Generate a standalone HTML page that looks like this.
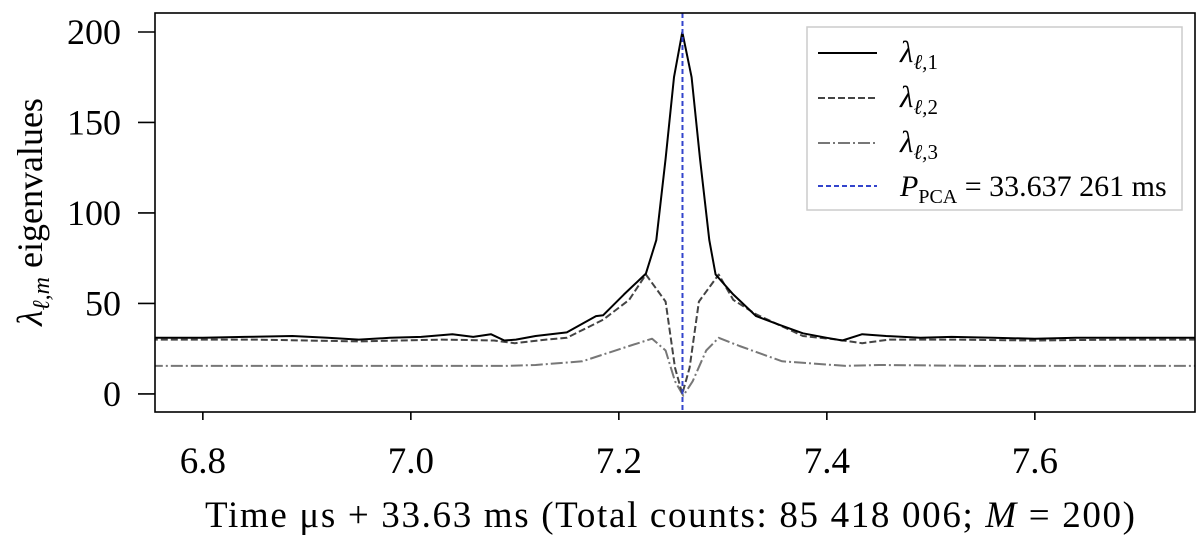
<!DOCTYPE html>
<html><head><meta charset="utf-8">
<style>
body{margin:0;background:#fff;}
svg{display:block;font-family:"Liberation Serif",serif;}
</style></head>
<body>
<svg id="chart" width="1200" height="540" viewBox="0 0 1200 540">
  <g id="marks"></g>
  <g id="axes"></g>
  <text x="205" y="527" font-size="37" textLength="930" lengthAdjust="spacing">Time μs + 33.63 ms (Total counts: 85 418 006; <tspan font-style="italic">M</tspan> = 200)</text>
  <text transform="translate(42,212) rotate(-90)" font-size="36" text-anchor="middle"><tspan font-style="italic">λ</tspan><tspan font-size="24" dy="7" font-style="italic">ℓ,m</tspan><tspan dy="-7"> eigenvalues</tspan></text>
  <g>
    <rect x="807" y="27" width="375" height="183" fill="#fff" fill-opacity="0.8" stroke="#ccc" stroke-width="1.5"/>
    <g>
      <line x1="818" y1="53" x2="877" y2="53" stroke="#000" stroke-width="2"/>
      <text x="900" y="62" font-size="31" font-style="italic">λ<tspan font-size="21" dy="7">ℓ,</tspan><tspan font-style="normal" font-size="21">1</tspan></text>
    </g>
    <g>
      <line x1="818" y1="98" x2="877" y2="98" stroke="#444" stroke-width="2" stroke-dasharray="7,3"/>
      <text x="900" y="107" font-size="31" font-style="italic">λ<tspan font-size="21" dy="7">ℓ,</tspan><tspan font-style="normal" font-size="21">2</tspan></text>
    </g>
    <g>
      <line x1="818" y1="143" x2="877" y2="143" stroke="#777" stroke-width="2" stroke-dasharray="12,3,2,3"/>
      <text x="900" y="152" font-size="31" font-style="italic">λ<tspan font-size="21" dy="7">ℓ,</tspan><tspan font-style="normal" font-size="21">3</tspan></text>
    </g>
    <g>
      <line x1="818" y1="186" x2="877" y2="186" stroke="#3344cc" stroke-width="2" stroke-dasharray="5,3"/>
      <text x="900" y="196" font-size="30"><tspan font-style="italic">P</tspan><tspan font-size="20" dy="7">PCA</tspan><tspan dy="-7"> = 33.637 261 ms</tspan></text>
    </g>
  </g>
</svg>
<script>
const xTicks = [6.8, 7.0, 7.2, 7.4, 7.6];
const xTickLabels = ["6.8", "7.0", "7.2", "7.4", "7.6"];
const yTicks = [0, 50, 100, 150, 200];
const yTickLabels = ["0", "50", "100", "150", "200"];
const periodX = 7.2612;
const s1x = [6.75,6.80,6.84,6.886,6.92,6.95,6.98,7.01,7.04,7.06,7.077,7.09,7.101,7.12,7.15,7.178,7.185,7.205,7.226,7.236,7.245,7.253,7.261,7.27,7.278,7.287,7.293,7.31,7.332,7.355,7.377,7.40,7.415,7.434,7.457,7.49,7.52,7.56,7.60,7.64,7.68,7.72,7.76];
const s1y = [31,31,31.5,32,31,30,31,31.5,33,31.5,33,29.5,30,32,34,43,43.5,55,66.5,85,130,175,200,175,130,85,66,55,43,38,33.5,31,29.5,33,32,31,31.5,31,30.5,31,31,31,31];
const s2x = [6.75,6.85,6.95,7.03,7.08,7.10,7.13,7.15,7.185,7.21,7.226,7.245,7.254,7.261,7.268,7.277,7.296,7.31,7.332,7.377,7.41,7.434,7.46,7.52,7.60,7.68,7.76];
const s2y = [30,30,29,30,29.5,28,30,31,41,52,66,51,14.5,0,14.5,51,66,52,44,32,30,28,30,30,29.5,30,30];
const s3x = [6.75,6.85,6.95,7.05,7.091,7.12,7.165,7.21,7.232,7.245,7.254,7.262,7.271,7.284,7.296,7.316,7.357,7.418,7.45,7.55,7.65,7.76];
const s3y = [15.5,15.5,15.5,15.5,15.5,16,18,26.5,30.5,24,7,-1,7,24,31,26.5,18,15.5,16,15.5,15.5,15.5];

const L=155,R=1195,T=13,B=412;
const xMin=6.754,xMax=7.754,yMin=-10,yMax=210.5;
const sx=v=>L+(v-xMin)/(xMax-xMin)*(R-L);
const sy=v=>B-(v-yMin)/(yMax-yMin)*(B-T);
const NS="http://www.w3.org/2000/svg";
const marks=document.getElementById('marks'), axes=document.getElementById('axes');
function mk(tag,attrs,parent){const e=document.createElementNS(NS,tag);for(const k in attrs)e.setAttribute(k,attrs[k]);parent.appendChild(e);return e;}
const clip=mk('clipPath',{id:'pc'},marks);
mk('rect',{x:L,y:T,width:R-L,height:B-T},clip);
function series(xs,ys,stroke,dash,name){
  const d=xs.map((x,i)=>(i?'L':'M')+sx(x).toFixed(1)+','+sy(ys[i]).toFixed(1)).join('');
  const p=mk('path',{d:d,fill:'none',stroke:stroke,'stroke-width':2,'stroke-dasharray':dash,'stroke-linejoin':'round','clip-path':'url(#pc)'},marks);
  
  
}
series(s3x,s3y,'#777','12,3,2,3','series-lambda3');
series(s2x,s2y,'#444','7,3','series-lambda2');
series(s1x,s1y,'#000','none','series-lambda1');
const vl=mk('line',{x1:sx(periodX),x2:sx(periodX),y1:T,y2:B,stroke:'#3344cc','stroke-width':2,'stroke-dasharray':'5,3'},marks);


const frame=mk('rect',{x:L,y:T,width:R-L,height:B-T,fill:'none',stroke:'#000','stroke-width':1.6},axes);


xTicks.forEach((v,i)=>{
  mk('line',{x1:sx(v),x2:sx(v),y1:B,y2:B+8,stroke:'#000','stroke-width':1.6},axes);
  const t=mk('text',{x:sx(v),y:B+61,'font-size':37,'text-anchor':'middle'},axes);
  t.textContent=xTickLabels[i];
  
  
});
yTicks.forEach((v,i)=>{
  mk('line',{x1:L-17,x2:L,y1:sy(v),y2:sy(v),stroke:'#000','stroke-width':1.6},axes);
  const t=mk('text',{x:L-34,y:sy(v)+12,'font-size':36,'text-anchor':'end'},axes);
  t.textContent=yTickLabels[i];
  
  
});
</script>
</body></html>
